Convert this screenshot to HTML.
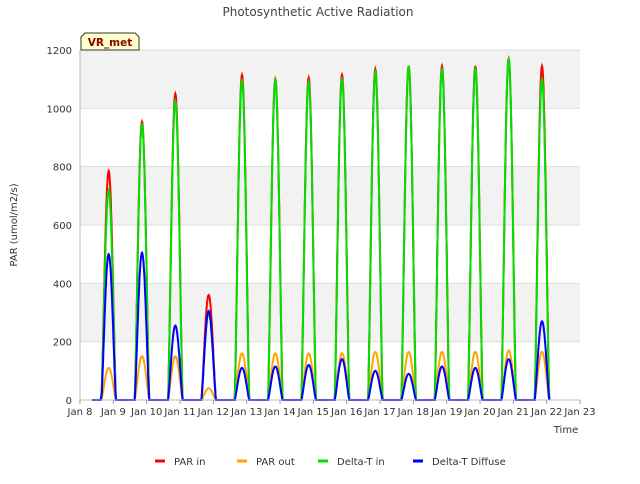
<!DOCTYPE html>
<html><head><meta charset="utf-8"><style>
body{margin:0;background:#fff;font-family:"DejaVu Sans",sans-serif}
svg text{font-family:"DejaVu Sans","Liberation Sans",sans-serif}
</style></head><body>
<svg id="c" width="640" height="480">
<text x="318" y="16" text-anchor="middle" font-size="12" fill="#444">Photosynthetic Active Radiation</text>
<g id="grid"></g><g id="marks"></g><g id="axes"></g>
<text x="17" y="225" transform="rotate(-90 17 225)" text-anchor="middle" font-size="10" fill="#333">PAR (umol/m2/s)</text>
<text x="566" y="433" text-anchor="middle" font-size="10" fill="#333">Time</text>
<g>
<path d="M81,50 L81,37 L85,33 L135,33 L139,37 L139,50 Z" fill="#ffffcc" stroke="#333"/>
<text x="110" y="46" text-anchor="middle" font-size="10.5" font-weight="bold" fill="#8b0000">VR_met</text></g>
<g id="legend"></g>
</svg>
<script>
const days=[8,9,10,11,12,13,14,15,16,17,18,19,20,21];
const parIn=[785,955,1050,360,1115,1100,1105,1115,1135,1145,1145,1145,1170,1145];
const parOut=[110,150,150,40,160,160,160,160,165,165,165,165,170,165];
const dtIn=[720,945,1025,300,1095,1095,1090,1100,1125,1145,1135,1135,1170,1100];
const diffuse=[500,505,255,305,110,115,120,140,100,90,115,110,140,270];
const xTicks=["Jan 8","Jan 9","Jan 10","Jan 11","Jan 12","Jan 13","Jan 14","Jan 15","Jan 16","Jan 17","Jan 18","Jan 19","Jan 20","Jan 21","Jan 22","Jan 23"];
const yTicks=[0,200,400,600,800,1000,1200];
const X=d=>80+(d-8)*500/15, Y=v=>400-v*350/1200;
const NS="http://www.w3.org/2000/svg";
function mk(t,a,p){const e=document.createElementNS(NS,t);for(const k in a)e.setAttribute(k,a[k]);p.appendChild(e);return e;}
const grid=document.getElementById('grid'),axes=document.getElementById('axes'),marks=document.getElementById('marks');
mk('rect',{x:80,y:50,width:500,height:350,fill:'#fff'},grid);
for(let i=0;i<yTicks.length-1;i++){if(i%2==1){const r=mk('rect',{x:80,y:Y(yTicks[i+1]),width:500,height:Y(yTicks[i])-Y(yTicks[i+1]),fill:'#f2f2f2'},grid);}}
yTicks.forEach(v=>{const l=mk('line',{x1:80,x2:580,y1:Y(v),y2:Y(v),stroke:'#ddd'},grid);
const t=mk('text',{x:72,y:Y(v)+4,'text-anchor':'end','font-size':10,fill:'#333'},axes);t.textContent=v;});
mk('line',{x1:80,x2:80,y1:50,y2:400,stroke:'#bbb'},axes);mk('line',{x1:80,x2:580,y1:400,y2:400,stroke:'#bbb'},axes);
xTicks.forEach((s,i)=>{const x=X(8+i);mk('line',{x1:x,x2:x,y1:400,y2:404,stroke:'#999'},axes);const t=mk('text',{x:x,y:415,'text-anchor':'middle','font-size':10,fill:'#333'},axes);t.textContent=s;});
function series(vals,color,name){let pts=[];const st=8.36;pts.push([st,0]);
days.forEach((d,i)=>{const a=d+0.64,b=d+1.08;if(i==0)pts.push([a-0.02,0]);else pts.push([a,0]);
for(let k=1;k<40;k++){const f=k/40;pts.push([a+(b-a)*f,vals[i]*Math.pow(Math.sin(Math.PI*f),1.3)]);}pts.push([b,0]);});
pts.push([22.08,0]);
const p=mk('polyline',{points:pts.map(q=>X(q[0]).toFixed(1)+','+Y(q[1]).toFixed(1)).join(' '),fill:'none',stroke:color,'stroke-width':2},marks);
}
series(parIn,'#ff0000','par-in-line');series(parOut,'#ffa500','par-out-line');series(dtIn,'#00e000','delta-t-in-line');series(diffuse,'#0000ff','delta-t-diffuse-line');
const lg=document.getElementById('legend');
[['PAR in','#ff0000',155],['PAR out','#ffa500',237],['Delta-T in','#00e000',318],['Delta-T Diffuse','#0000ff',413]].forEach(e=>{const g=mk('g',{},lg);
mk('line',{x1:e[2],x2:e[2]+10,y1:461,y2:461,stroke:e[1],'stroke-width':3},g);const t=mk('text',{x:e[2]+19,y:465,'font-size':10,fill:'#333'},g);t.textContent=e[0];});
</script></body></html>
